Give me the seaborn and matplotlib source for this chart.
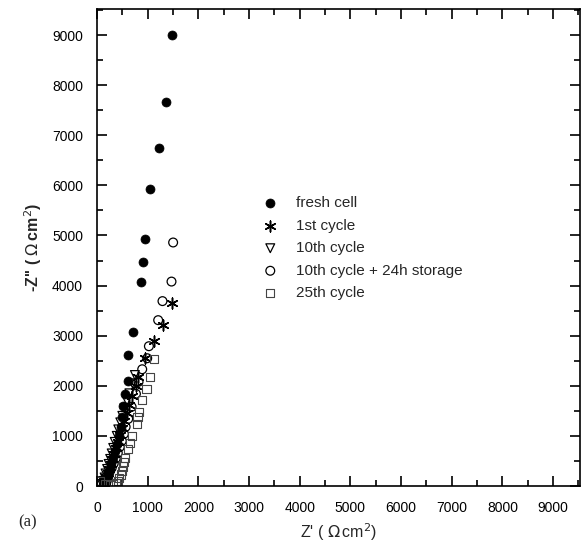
import matplotlib
matplotlib.use("Agg")
import matplotlib.pyplot as plt
import seaborn as sns
import pandas as pd
from matplotlib.ticker import MultipleLocator

# ---- data ----
fresh_x = [1470, 1359, 1221, 1044, 945, 912, 866, 703, 616, 616, 557, 518, 498, 470, 440, 400, 360, 320, 280, 250, 220, 190, 160, 130, 110]
fresh_y = [9010, 7670, 6740, 5920, 4930, 4480, 4080, 3070, 2620, 2100, 1840, 1600, 1380, 1180, 1000, 840, 700, 570, 450, 340, 250, 170, 100, 50, 20]

cycle1_x = [1483, 1306, 1129, 945, 814, 760, 700, 640, 590, 540, 490, 450, 410, 370, 330, 300, 270, 240, 210, 180, 150, 130]
cycle1_y = [3650, 3210, 2900, 2560, 2180, 2000, 1800, 1620, 1460, 1300, 1150, 1010, 880, 760, 640, 540, 440, 340, 250, 170, 100, 50]

cycle10_x = [748, 700, 640, 590, 540, 500, 460, 420, 390, 350, 320, 290, 260, 230, 200, 170, 150, 120, 100]
cycle10_y = [2215, 2050, 1850, 1700, 1550, 1400, 1270, 1130, 1000, 880, 760, 650, 540, 440, 340, 250, 170, 100, 40]

storage_x = [1502, 1470, 1292, 1207, 1024, 991, 892, 820, 768, 683, 616, 565, 532, 490, 450, 410, 370, 330, 290, 250, 223, 200, 180]
storage_y = [4860, 4080, 3690, 3310, 2790, 2550, 2330, 2080, 1840, 1580, 1340, 1180, 1040, 900, 780, 660, 550, 450, 360, 280, 185, 120, 60]

cycle25_x = [1129, 1044, 977, 892, 833, 800, 781, 689, 650, 604, 551, 530, 510, 490, 470, 440, 410, 370, 320, 250, 150, 60]
cycle25_y = [2540, 2180, 1940, 1720, 1470, 1370, 1240, 990, 860, 730, 550, 470, 390, 300, 230, 160, 100, 60, 30, 20, 40, 90]

labels = ["fresh cell", "1st cycle", "10th cycle", "10th cycle + 24h storage", "25th cycle"]
x_ticks = [0, 1000, 2000, 3000, 4000, 5000, 6000, 7000, 8000, 9000]
y_ticks = [0, 1000, 2000, 3000, 4000, 5000, 6000, 7000, 8000, 9000]

series = [
    (fresh_x, fresh_y, dict(marker="o", s=42, color="black", edgecolor="black", linewidth=0.5)),
    (cycle1_x, cycle1_y, dict(marker=(6, 2, 0), s=60, color="black", linewidth=1.1)),
    (cycle10_x, cycle10_y, dict(marker="v", s=40, facecolor="none", edgecolor="black", linewidth=0.9)),
    (storage_x, storage_y, dict(marker="o", s=40, facecolor="none", edgecolor="black", linewidth=0.9)),
    (cycle25_x, cycle25_y, dict(marker="s", s=34, facecolor="none", edgecolor="#444444", linewidth=0.8)),
]

sns.set_style("ticks")
plt.rcParams["font.family"] = ["Liberation Sans", "DejaVu Sans"]

fig = plt.figure(figsize=(5.86, 5.43), dpi=100)
ax = fig.add_axes([97 / 586, 57 / 543, (580 - 97) / 586, (486 - 9) / 543])

for (xs, ys, kw), lab in zip(series, labels):
    df = pd.DataFrame({"x": xs, "y": ys})
    sns.scatterplot(data=df, x="x", y="y", ax=ax, label=lab, **kw)

ax.set_xlim(0, 9530)
ax.set_ylim(0, 9520)
ax.set_xticks(x_ticks)
ax.set_yticks(y_ticks)
ax.xaxis.set_minor_locator(MultipleLocator(500))
ax.yaxis.set_minor_locator(MultipleLocator(500))
ax.tick_params(which="both", direction="in", top=True, right=True, width=1.2, colors="black")
ax.tick_params(which="major", length=7, labelsize=10)
ax.tick_params(axis="y", which="major", pad=10)
ax.tick_params(axis="x", which="major", pad=11)
ax.tick_params(which="minor", length=4)
for sp in ax.spines.values():
    sp.set_linewidth(1.2)
    sp.set_color("black")

ax.set_xlabel("Z' ( $\\Omega\\,$cm$^2$)", fontsize=11.5, labelpad=4)
ax.set_ylabel("-Z'' ( $\\Omega\\,$cm$^2$)", fontsize=11.5, labelpad=6, fontweight="bold")

leg = ax.legend(loc="upper left", bbox_to_anchor=(255 / 586, 1 - 190 / 543), bbox_transform=fig.transFigure,
                frameon=False, fontsize=11, handletextpad=1.1, labelspacing=0.56,
                borderaxespad=0, handlelength=1.2)

fig.text(18 / 586, 1 - 522 / 543, "(a)", fontsize=12, family=["Liberation Serif", "DejaVu Serif"],
         va="center", ha="left")

fig.savefig("out.png", dpi=100)
